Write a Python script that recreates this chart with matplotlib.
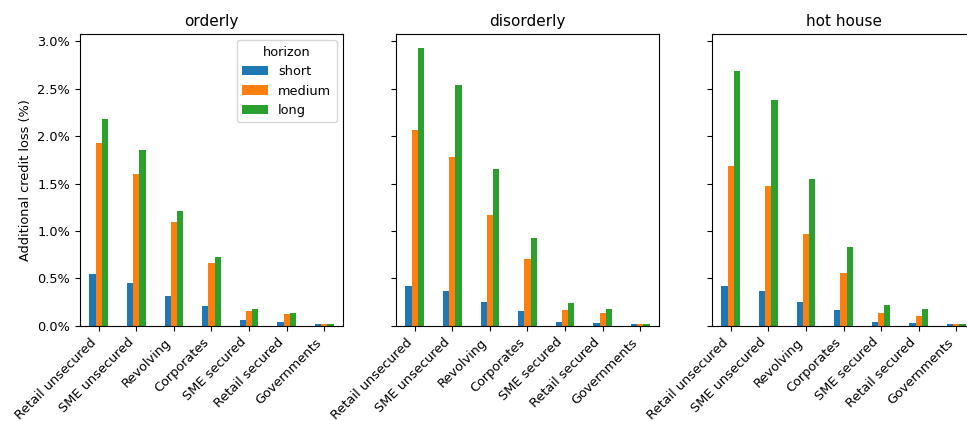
import matplotlib
matplotlib.use("Agg")
import matplotlib.pyplot as plt
import pandas as pd
from matplotlib.ticker import PercentFormatter

plt.rcParams["font.size"] = 9.3

portfolios = ["Retail unsecured", "SME unsecured", "Revolving", "Corporates",
              "SME secured", "Retail secured", "Governments"]
horizons = ["short", "medium", "long"]
scenarios = ["orderly", "disorderly", "hot house"]

# additional credit loss as a fraction of exposure
orderly_short = [0.0055, 0.0045, 0.0032, 0.0021, 0.0006, 0.00045, 0.0002]
orderly_medium = [0.0193, 0.0160, 0.0110, 0.0066, 0.0016, 0.0013, 0.0002]
orderly_long = [0.0218, 0.0185, 0.0121, 0.0073, 0.0018, 0.0014, 0.0002]

disorderly_short = [0.0042, 0.0037, 0.0025, 0.0016, 0.00045, 0.0003, 0.0002]
disorderly_medium = [0.0206, 0.0178, 0.0117, 0.0071, 0.0017, 0.0014, 0.0002]
disorderly_long = [0.0293, 0.0254, 0.0165, 0.0093, 0.0024, 0.0018, 0.0002]

hothouse_short = [0.0042, 0.0037, 0.0025, 0.0017, 0.00045, 0.0003, 0.0002]
hothouse_medium = [0.0168, 0.0147, 0.0097, 0.0056, 0.0014, 0.0011, 0.0002]
hothouse_long = [0.0268, 0.0238, 0.0155, 0.0083, 0.0022, 0.0018, 0.0002]

frames = {
    "orderly": pd.DataFrame(dict(zip(horizons, [orderly_short, orderly_medium, orderly_long])), index=portfolios),
    "disorderly": pd.DataFrame(dict(zip(horizons, [disorderly_short, disorderly_medium, disorderly_long])), index=portfolios),
    "hot house": pd.DataFrame(dict(zip(horizons, [hothouse_short, hothouse_medium, hothouse_long])), index=portfolios),
}

fig = plt.figure(figsize=(9.67, 4.21), dpi=100)
lefts = [0.0827, 0.4095, 0.7363]
axes = []
for i, name in enumerate(scenarios):
    ax = fig.add_axes([lefts[i], 0.2257, 0.272, 0.6936], sharey=axes[0] if axes else None)
    df = frames[name]
    df.columns.name = "horizon"
    df.plot(kind="bar", ax=ax, rot=45, legend=(i == 0))
    plt.setp(ax.get_xticklabels(), ha="right", rotation_mode="default")
    ax.set_title(name, fontsize=11)
    ax.set_xlabel("")
    if i == 0:
        ax.set_ylabel("Additional credit loss (%)")
        ax.yaxis.set_major_formatter(PercentFormatter(1, decimals=1))
        ax.legend(title="horizon", loc="upper right")
    else:
        ax.tick_params(labelleft=False)
    axes.append(ax)

axes[0].set_ylim(0, 0.03075)
fig.savefig("out.png", dpi=100)
